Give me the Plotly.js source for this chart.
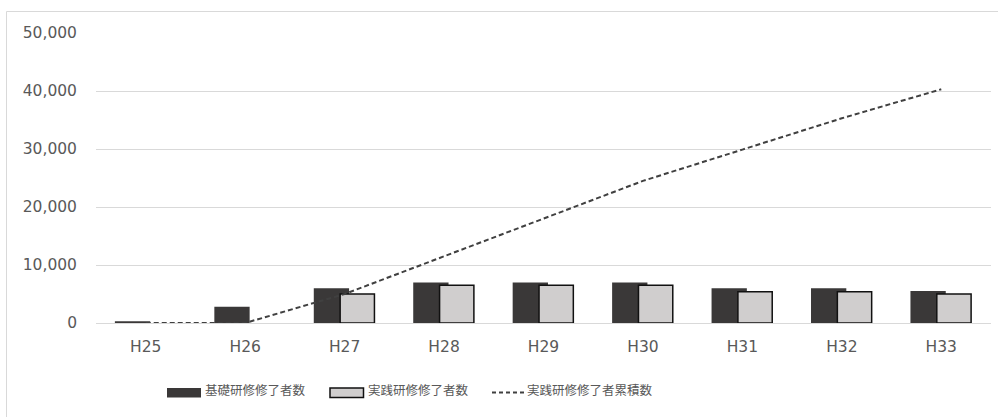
<!DOCTYPE html>
<html>
<head>
<meta charset="utf-8">
<script src="https://cdn.plot.ly/plotly-3.0.1.min.js"></script>
<style>
  html, body { margin: 0; padding: 0; background: #ffffff; }
  #chart { width: 998px; height: 417px; }
</style>
</head>
<body>
<div id="chart"></div>
<script>
// 年度別の研修修了者数
const years = ['H25', 'H26', 'H27', 'H28', 'H29', 'H30', 'H31', 'H32', 'H33'];
const basicCompleted = [300, 2800, 6000, 7000, 7000, 7000, 6000, 6000, 5500];
const practiceCompleted = [0, 0, 5000, 6500, 6500, 6500, 5400, 5400, 5000];
const practiceCumulative = [0, 0, 5000, 11500, 18000, 24500, 29900, 35300, 40300];
const yTickValues = [0, 10000, 20000, 30000, 40000, 50000];
const yTickLabels = ['0', '10,000', '20,000', '30,000', '40,000', '50,000'];
const seriesNames = ['基礎研修修了者数', '実践研修修了者数', '実践研修修了者累積数'];

const W = 998, H = 417;
const M = { l: 96, r: 7, t: 33, b: 94 };
const plotW = W - M.l - M.r, plotH = H - M.t - M.b;
// pixel -> paper coordinates
const px = x => (x - M.l) / plotW;
const py = y => (H - M.b - y) / plotH;

const DARK = '#3a3838', LIGHT = '#d0cece', TXT = '#595959';
const CJK = '"Noto Sans CJK JP", "Noto Sans", sans-serif';

const traces = [
  {
    type: 'bar', name: seriesNames[0], x: years, y: basicCompleted,
    offset: -0.31, width: 0.355,
    marker: { color: DARK, line: { width: 0 } },
    showlegend: false
  },
  {
    type: 'bar', name: seriesNames[1], x: years, y: practiceCompleted,
    offset: -0.045, width: 0.345,
    // no outline on empty years
    marker: { color: LIGHT, line: { color: '#111111', width: practiceCompleted.map(v => v > 0 ? 1.5 : 0) } },
    showlegend: false
  },
  {
    type: 'scatter', mode: 'lines', name: seriesNames[2], x: years, y: practiceCumulative,
    line: { color: '#404040', width: 2, dash: '5px,3px' },
    showlegend: false
  }
];

// legend keys and chart frame
const legendY = 392.5;
const shapes = [
  { type: 'line', xref: 'paper', yref: 'paper', x0: px(6.5), x1: px(998), y0: py(11.5), y1: py(11.5),
    line: { color: '#d9d9d9', width: 1 } },
  { type: 'line', xref: 'paper', yref: 'paper', x0: px(6.5), x1: px(6.5), y0: py(11.5), y1: py(417),
    line: { color: '#d9d9d9', width: 1 } },
  { type: 'rect', xref: 'paper', yref: 'paper', x0: px(167), x1: px(201), y0: py(388), y1: py(397.5),
    fillcolor: DARK, line: { width: 0 } },
  { type: 'rect', xref: 'paper', yref: 'paper', x0: px(330), x1: px(363.5), y0: py(388), y1: py(397.5),
    fillcolor: LIGHT, line: { color: '#111111', width: 1.5 } },
  { type: 'line', xref: 'paper', yref: 'paper', x0: px(492), x1: px(526), y0: py(legendY), y1: py(legendY),
    line: { color: '#404040', width: 2, dash: '4px,3px' } }
];

const legendText = (x, text) => ({
  xref: 'paper', yref: 'paper', x: px(x), y: py(389), xanchor: 'left', yanchor: 'middle',
  text: text, showarrow: false, borderpad: 0, borderwidth: 0,
  font: { family: CJK, size: 12.5, color: TXT }
});

const layout = {
  width: W, height: H,
  margin: M,
  paper_bgcolor: '#ffffff', plot_bgcolor: '#ffffff',
  barmode: 'overlay',
  showlegend: false,
  xaxis: {
    type: 'category', categoryorder: 'array', categoryarray: years,
    range: [-0.5, years.length - 0.5],
    showgrid: false, zeroline: false, showline: false, ticks: '',
    ticklabelstandoff: 12,
    tickfont: { family: '"DejaVu Sans", sans-serif', size: 15.5, color: TXT }
  },
  yaxis: {
    range: [0, 50000],
    tickvals: yTickValues, ticktext: yTickLabels,
    showgrid: true, gridcolor: '#d9d9d9', gridwidth: 1,
    zeroline: true, zerolinecolor: '#d9d9d9', zerolinewidth: 1,
    showline: false, ticks: '',
    ticklabelstandoff: 18,
    tickfont: { family: '"DejaVu Sans", sans-serif', size: 15.5, color: TXT }
  },
  shapes: shapes,
  annotations: [
    legendText(205, seriesNames[0]),
    legendText(368, seriesNames[1]),
    legendText(527, seriesNames[2])
  ]
};

Plotly.newPlot('chart', traces, layout, { staticPlot: true, displayModeBar: false });
</script>
</body>
</html>
